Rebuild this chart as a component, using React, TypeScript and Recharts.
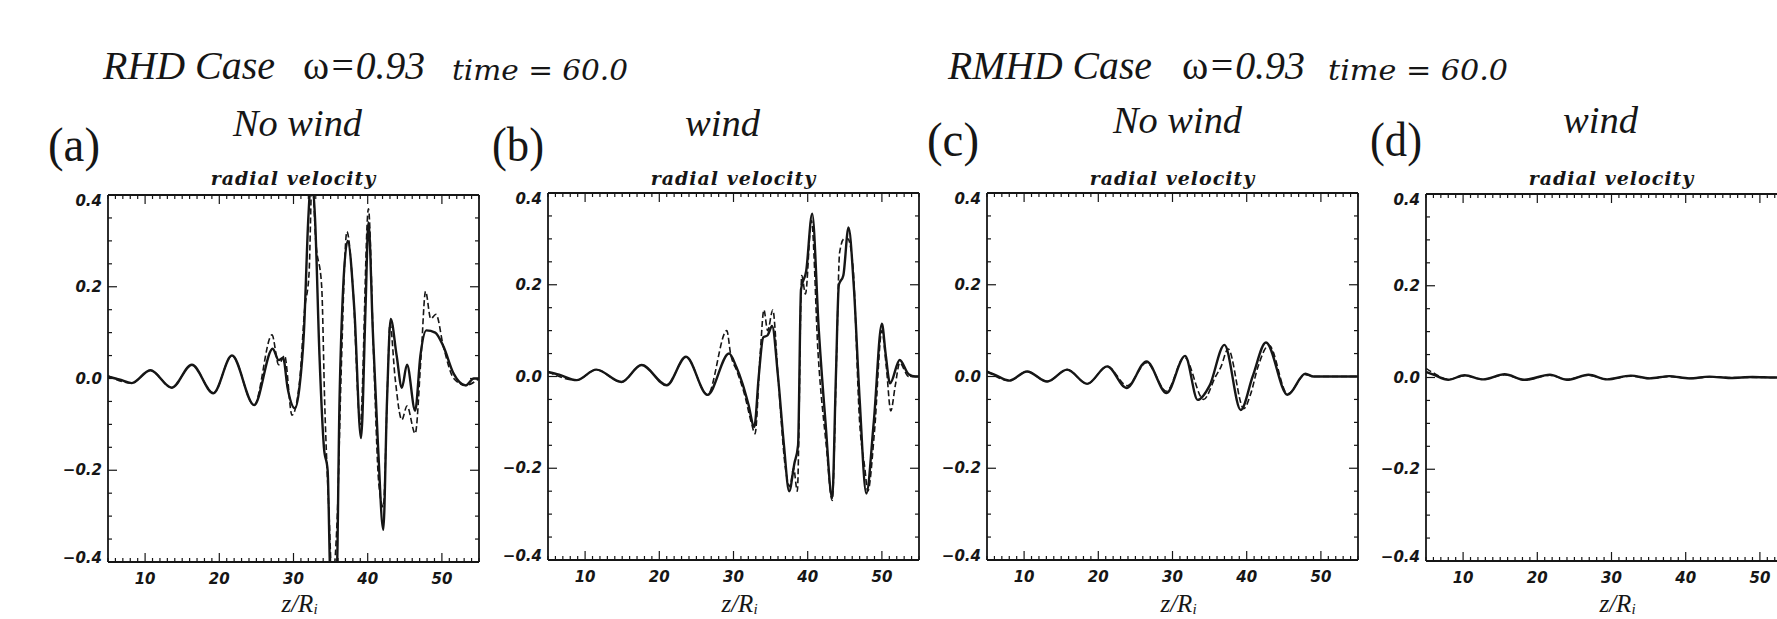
import React from 'react';
import { LineChart, Line, XAxis, YAxis } from 'recharts';

type Pt = [number, number];

// ---------- axis ticks / labels ----------
const xMajorTicks = [10, 20, 30, 40, 50];
const xAllTicks = Array.from({ length: 51 }, (_, i) => 5 + i);
const yMajorTicks = [-0.4, -0.2, 0, 0.2, 0.4];
const yAllTicks = [-0.4, -0.35, -0.3, -0.25, -0.2, -0.15, -0.1, -0.05, 0, 0.05, 0.1, 0.15, 0.2, 0.25, 0.3, 0.35, 0.4];
const xDomain: [number, number] = [5, 55];
const yDomain: [number, number] = [-0.4, 0.4];

const caseTitles = ['RHD Case', 'RMHD Case'];
const omegaText = '=0.93';
const timeText = 'time = 60.0';
const panelLetters = ['(a)', '(b)', '(c)', '(d)'];
const panelTitles = ['No wind', 'wind', 'No wind', 'wind'];
const plotTitle = 'radial velocity';
const xLabelMain = 'z/R';
const xLabelSub = 'i';

// ---------- series values (z, radial velocity) ----------
const aSolid: Pt[] = [
  [5, 0.004], [6.5, -0.002], [8.2, -0.01], [10.7, 0.018], [13.6, -0.02], [16.3, 0.03], [19.2, -0.032],
  [21.7, 0.05], [24.7, -0.058], [27.2, 0.065], [28.0, 0.04], [28.6, 0.045], [29.2, -0.02], [30.2, -0.065],
  [30.8, -0.02], [31.4, 0.1], [32.0, 0.35], [32.4, 0.44], [32.9, 0.35], [33.5, 0.05], [34.1, -0.15],
  [34.6, -0.2], [35.0, -0.44], [35.8, -0.44], [36.2, -0.05], [36.7, 0.2], [37.3, 0.3], [38.2, 0.15],
  [39.1, -0.13], [39.7, 0.15], [40.1, 0.34], [40.7, 0.1], [41.4, -0.15], [42.1, -0.33], [42.6, -0.05],
  [43.1, 0.13], [43.9, 0.05], [44.6, -0.02], [45.3, 0.03], [46.4, -0.07], [47.1, 0.05], [47.9, 0.105],
  [49.1, 0.1], [50.2, 0.07], [51.6, 0.01], [53.2, -0.015], [54.3, 0.0], [55, 0.0],
];
const aDashed: Pt[] = [
  [5, 0.006], [8.2, -0.01], [10.7, 0.018], [13.6, -0.02], [16.3, 0.03], [19.2, -0.032], [21.7, 0.05],
  [24.7, -0.058], [27.1, 0.095], [28.0, 0.03], [28.8, 0.05], [29.8, -0.08], [30.8, -0.01], [31.5, 0.15],
  [32.1, 0.23], [32.5, 0.44], [33.0, 0.3], [33.8, 0.2], [34.2, -0.05], [34.8, -0.3], [35.2, -0.44],
  [35.9, -0.3], [36.4, 0.0], [37.2, 0.32], [38.0, 0.2], [39.0, -0.1], [40.1, 0.37], [40.8, 0.05],
  [41.5, -0.23], [42.1, -0.28], [42.7, 0.0], [43.0, 0.12], [43.7, 0.0], [44.6, -0.09], [45.3, -0.06],
  [46.4, -0.12], [47.2, 0.05], [47.8, 0.19], [48.5, 0.13], [49.2, 0.14], [50.2, 0.07], [51.6, 0.0],
  [53.2, -0.015], [55, 0.0],
];
const bSolid: Pt[] = [
  [5, 0.01], [6.5, 0.004], [8.85, -0.008], [11.5, 0.015], [14.9, -0.012], [17.6, 0.025], [21.0, -0.019],
  [23.6, 0.043], [26.5, -0.04], [29.4, 0.05], [30.4, 0.02], [31.2, -0.015], [32.0, -0.06], [32.8, -0.11],
  [33.4, 0.0], [34.0, 0.085], [34.6, 0.09], [35.2, 0.11], [36.0, 0.0], [36.8, -0.15], [37.5, -0.25],
  [38.2, -0.19], [38.7, -0.15], [39.1, 0.19], [39.8, 0.23], [40.6, 0.355], [41.5, 0.1], [42.4, -0.1],
  [43.3, -0.265], [43.8, 0.0], [44.2, 0.2], [44.8, 0.22], [45.5, 0.325], [46.2, 0.2], [47.0, -0.05],
  [47.9, -0.255], [48.9, -0.1], [50.0, 0.115], [50.5, 0.05], [51.1, -0.015], [52.4, 0.036], [53.6, 0.005],
  [54.5, 0.0], [55, 0.0],
];
const bDashed: Pt[] = [
  [5, 0.01], [8.85, -0.008], [11.5, 0.015], [14.9, -0.012], [17.6, 0.025], [21.0, -0.019], [23.6, 0.043],
  [26.5, -0.04], [29.1, 0.1], [29.6, 0.05], [30.5, 0.01], [31.5, -0.04], [32.4, -0.1], [32.9, -0.125],
  [33.6, 0.05], [34.1, 0.145], [34.6, 0.1], [35.3, 0.145], [36.0, 0.0], [37.0, -0.2], [37.6, -0.24],
  [38.1, -0.2], [38.6, -0.25], [39.2, 0.22], [39.7, 0.18], [40.5, 0.34], [41.4, 0.05], [42.5, -0.15],
  [43.3, -0.27], [43.9, 0.05], [44.3, 0.27], [44.9, 0.3], [45.4, 0.3], [46.1, 0.24], [47.0, -0.1],
  [47.7, -0.2], [48.1, -0.25], [49.0, -0.12], [50.0, 0.1], [50.6, 0.02], [51.2, -0.075], [51.8, -0.02],
  [52.4, 0.03], [53.6, 0.0], [55, 0.0],
];
const cSolid: Pt[] = [
  [5, 0.01], [6.0, 0.004], [8.0, -0.009], [10.4, 0.011], [13.1, -0.011], [15.8, 0.015], [18.5, -0.016],
  [21.2, 0.022], [23.8, -0.025], [26.5, 0.033], [29.2, -0.036], [31.7, 0.045], [33.4, -0.051], [35.0, -0.02],
  [37.0, 0.069], [39.2, -0.073], [40.8, 0.0], [42.6, 0.074], [45.5, -0.04], [47.9, 0.006], [49.0, 0.0],
  [55, 0.0],
];
const cDashed: Pt[] = [
  [5, 0.012], [8.0, -0.009], [10.4, 0.011], [13.1, -0.011], [15.8, 0.015], [18.5, -0.016], [21.2, 0.022],
  [23.9, -0.02], [26.5, 0.03], [29.2, -0.032], [31.6, 0.042], [34.2, -0.05], [35.8, 0.0], [36.5, 0.02],
  [37.5, 0.06], [39.6, -0.07], [40.5, -0.04], [41.5, 0.02], [43.0, 0.068], [45.5, -0.038], [47.9, 0.004],
  [49.0, 0.0], [55, 0.0],
];
const dSolid: Pt[] = [
  [5, 0.012], [6.0, 0.006], [8.0, -0.005], [10.2, 0.005], [12.7, -0.004], [15.6, 0.007], [18.3, -0.005],
  [21.7, 0.006], [24.0, -0.005], [26.9, 0.006], [29.4, -0.004], [32.6, 0.004], [35.1, -0.002], [37.8, 0.003],
  [40.5, -0.002], [43.2, 0.002], [46.0, -0.001], [49.0, 0.001], [52.0, 0.0], [55, 0.0],
];
const dDashed: Pt[] = [
  [5, 0.02], [6.0, 0.01], [8.0, -0.004], [10.2, 0.004], [12.7, -0.004], [15.6, 0.006], [18.3, -0.005],
  [21.7, 0.005], [24.0, -0.004], [26.9, 0.005], [29.4, -0.004], [32.6, 0.003], [35.1, -0.002], [37.8, 0.002],
  [40.5, -0.002], [43.2, 0.001], [46.0, 0.0], [55, 0.0],
];

// ---------- layout (pixels) ----------
const FRAME_W = 371;
const FRAME_H = 367;
const panels = [
  { left: 108, top: 195, solid: aSolid, dashed: aDashed, letterX: 48, letterY: 161, titleX: 233, titleY: 136, titleW: 129 },
  { left: 548, top: 193, solid: bSolid, dashed: bDashed, letterX: 492, letterY: 161, titleX: 685, titleY: 136, titleW: 75 },
  { left: 987, top: 193, solid: cSolid, dashed: cDashed, letterX: 927, letterY: 156, titleX: 1113, titleY: 133, titleW: 129 },
  { left: 1426, top: 194, solid: dSolid, dashed: dDashed, letterX: 1370, letterY: 156, titleX: 1563, titleY: 133, titleW: 75 },
];
const PAD_L = 70;
const PAD_T = 10;
const CHART_W = FRAME_W + PAD_L + 30;
const CHART_H = FRAME_H + PAD_T + 60;

const INK = '#161616';
const SERIF = "'Liberation Serif', 'Times New Roman', serif";
const tickFont: React.CSSProperties = {
  fontFamily: "'DejaVu Sans', sans-serif",
  fontWeight: 700,
  fontStyle: 'italic',
  fontSize: 15,
};

const isMajorX = (v: number) => xMajorTicks.includes(v);
const isMajorY = (v: number) => yMajorTicks.some((m) => Math.abs(m - v) < 1e-9);
const fmtY = (v: number) => (Math.abs(v) < 1e-9 ? '0.0' : v.toFixed(1)).replace('-', '\u2212');

function BottomTick(props: any) {
  const { x, y, payload } = props;
  const v = payload.value as number;
  const maj = isMajorX(v);
  return (
    <g>
      <line x1={x} x2={x} y1={y} y2={y - (maj ? 9 : 4)} stroke={INK} strokeWidth={1.2} />
      {maj && (
        <text x={x} y={y + 22} textAnchor="middle" fill={INK} style={tickFont}>
          {v}
        </text>
      )}
    </g>
  );
}
function TopTick(props: any) {
  const { x, y, payload } = props;
  const maj = isMajorX(payload.value as number);
  return <line x1={x} x2={x} y1={y} y2={y + (maj ? 9 : 4)} stroke={INK} strokeWidth={1.2} />;
}
function LeftTick(props: any) {
  const { x, y, payload } = props;
  const v = payload.value as number;
  const maj = isMajorY(v);
  let shift = 0;
  if (Math.abs(v - 0.4) < 1e-9) shift = 6;
  if (Math.abs(v + 0.4) < 1e-9) shift = -4;
  return (
    <g>
      <line x1={x} x2={x + (maj ? 9 : 4)} y1={y} y2={y} stroke={INK} strokeWidth={1.2} />
      {maj && (
        <text x={x - 6} y={y + shift + 5} textAnchor="end" fill={INK} style={tickFont}>
          {fmtY(v)}
        </text>
      )}
    </g>
  );
}
function RightTick(props: any) {
  const { x, y, payload } = props;
  const maj = isMajorY(payload.value as number);
  return <line x1={x} x2={x - (maj ? 9 : 4)} y1={y} y2={y} stroke={INK} strokeWidth={1.2} />;
}

const toRows = (pts: Pt[]) => pts.map(([z, v]) => ({ z, v }));
const frameLine = { stroke: INK, strokeWidth: 1.8 };

function Panel({ p }: { p: (typeof panels)[number] }) {
  return (
    <div style={{ position: 'absolute', left: p.left - PAD_L, top: p.top - PAD_T }}>
      <LineChart
        width={CHART_W}
        height={CHART_H}
        margin={{ top: PAD_T - 1, right: CHART_W - PAD_L - FRAME_W - 1, bottom: CHART_H - PAD_T - FRAME_H - 1, left: PAD_L - 1 }}
      >
        <XAxis dataKey="z" type="number" domain={xDomain} allowDataOverflow ticks={xAllTicks} interval={0}
          tickLine={false} tickSize={0} tickMargin={0} height={1} axisLine={frameLine} tick={BottomTick} />
        <XAxis xAxisId="top" orientation="top" dataKey="z" type="number" domain={xDomain} allowDataOverflow
          ticks={xAllTicks} interval={0} tickLine={false} tickSize={0} tickMargin={0} height={1}
          axisLine={frameLine} tick={TopTick} />
        <YAxis type="number" domain={yDomain} allowDataOverflow ticks={yAllTicks} interval={0}
          tickLine={false} tickSize={0} tickMargin={0} width={1} axisLine={frameLine} tick={LeftTick} />
        <YAxis yAxisId="right" orientation="right" type="number" domain={yDomain} allowDataOverflow
          ticks={yAllTicks} interval={0} tickLine={false} tickSize={0} tickMargin={0} width={1}
          axisLine={frameLine} tick={RightTick} />
        <Line data={toRows(p.dashed)} dataKey="v" type="monotone" stroke={INK} strokeWidth={1.6}
          strokeDasharray="6 3" dot={false} activeDot={false} isAnimationActive={false} />
        <Line data={toRows(p.solid)} dataKey="v" type="monotone" stroke={INK} strokeWidth={2.4}
          dot={false} activeDot={false} isAnimationActive={false} />
      </LineChart>
    </div>
  );
}

function Texts() {
  const headers = [
    { cx: 103, cw: 172, ox: 303, ow: 122, tx: 452, tw: 176, y: 79 },
    { cx: 948, cw: 204, ox: 1182, ow: 123, tx: 1328, tw: 180, y: 79 },
  ];
  return (
    <svg width={1777} height={619} style={{ position: 'absolute', left: 0, top: 0, pointerEvents: 'none' }}>
      {headers.map((h, i) => (
        <g key={i} fill={INK}>
          <text x={h.cx} y={h.y} fontFamily={SERIF} fontStyle="italic" fontSize={40} textLength={h.cw}
            lengthAdjust="spacingAndGlyphs">
            {caseTitles[i]}
          </text>
          <text x={h.ox} y={h.y} fontFamily={SERIF} fontSize={40} textLength={h.ow} lengthAdjust="spacingAndGlyphs">
            <tspan fontStyle="normal">ω</tspan>
            <tspan fontStyle="italic">{omegaText}</tspan>
          </text>
          <text x={h.tx} y={h.y + 1} fontFamily="'DejaVu Serif', serif" fontStyle="italic" fontSize={27}
            textLength={h.tw} lengthAdjust="spacingAndGlyphs">
            {timeText}
          </text>
        </g>
      ))}
      {panels.map((p, i) => {
        const cx = p.left + FRAME_W / 2;
        return (
          <g key={i} fill={INK}>
            <text x={p.letterX} y={p.letterY} fontFamily={SERIF} fontSize={48} textLength={52}
              lengthAdjust="spacingAndGlyphs">
              {panelLetters[i]}
            </text>
            <text x={p.titleX} y={p.titleY} fontFamily={SERIF} fontStyle="italic" fontSize={38} textLength={p.titleW}
              lengthAdjust="spacingAndGlyphs">
              {panelTitles[i]}
            </text>
            <text x={cx} y={185} textAnchor="middle" fontFamily="'DejaVu Serif', serif" fontStyle="italic"
              fontWeight={700} fontSize={19} letterSpacing={1}>
              {plotTitle}
            </text>
            <text x={cx + 6} y={612} textAnchor="middle" fontFamily={SERIF} fontStyle="italic" fontSize={25}>
              <tspan>{xLabelMain}</tspan>
              <tspan fontSize={15} dy={2}>{xLabelSub}</tspan>
            </text>
          </g>
        );
      })}
    </svg>
  );
}

export default function App() {
  return (
    <div style={{ position: 'relative', width: 1777, height: 619, overflow: 'hidden', background: '#fff' }}>
      <style>{'html,body{margin:0;padding:0;overflow:hidden;background:#fff}'}</style>
      {panels.map((p, i) => (
        <Panel key={i} p={p} />
      ))}
      <Texts />
    </div>
  );
}
